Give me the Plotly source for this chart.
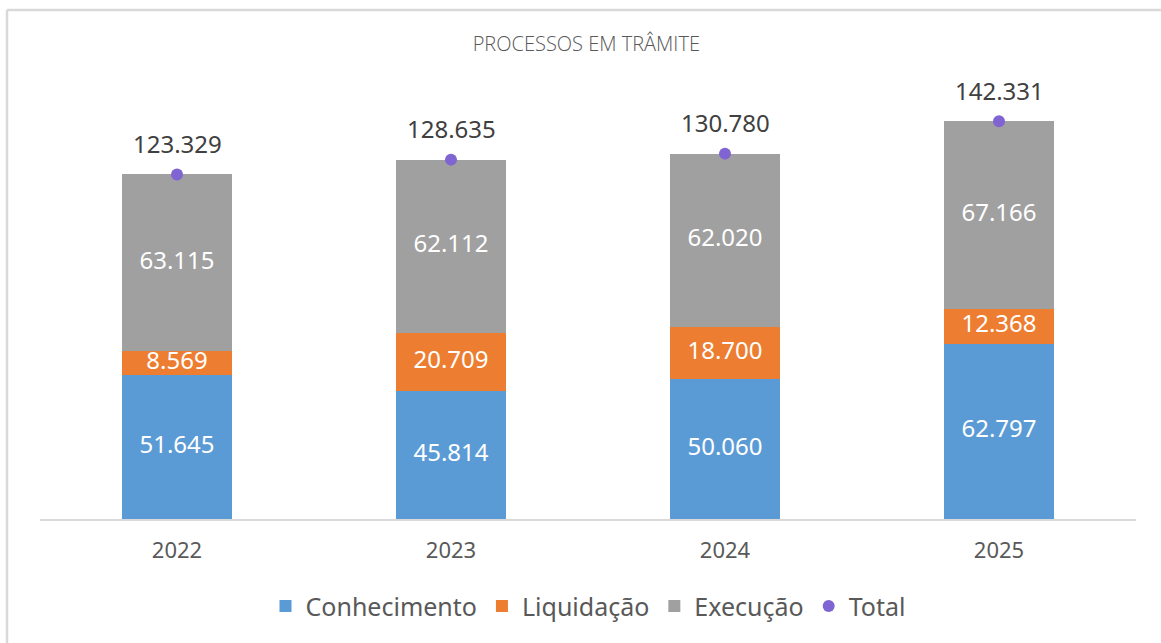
import plotly.graph_objects as go

years = ["2022", "2023", "2024", "2025"]
conhecimento = [51645, 45814, 50060, 62797]
liquidacao = [8569, 20709, 18700, 12368]
execucao = [63115, 62112, 62020, 67166]
total = [123329, 128635, 130780, 142331]

title_text = "PROCESSOS EM TRÂMITE"
FONT = "Noto Sans"

xpos = list(range(len(years)))

def fmt(v):
    return f"{v:,.0f}".replace(",", ".")

fig = go.Figure()

series = [
    ("Conhecimento", conhecimento, "#5b9bd5"),
    ("Liquidação", liquidacao, "#ed7d31"),
    ("Execução", execucao, "#a0a0a0"),
]
for name, vals, color in series:
    fig.add_trace(go.Bar(
        x=xpos, y=vals, name=name,
        marker=dict(color=color, line=dict(width=0)),
        width=0.405,
    ))

# segment labels at segment mid-points
base = [0] * len(years)
for name, vals, color in series:
    mids = [b + v / 2 for b, v in zip(base, vals)]
    fig.add_trace(go.Scatter(
        x=xpos, y=mids, mode="text",
        text=[fmt(v) for v in vals],
        textfont=dict(family=FONT, size=24, color="white"),
        showlegend=False, hoverinfo="skip",
    ))
    base = [b + v for b, v in zip(base, vals)]

fig.add_trace(go.Scatter(
    x=xpos, y=total, name="Total", mode="markers",
    marker=dict(color="#8064d2", size=12),
))

for xp, t in zip(xpos, total):
    fig.add_annotation(
        x=xp, y=t, text=fmt(t), showarrow=False,
        yanchor="middle", yshift=31,
        font=dict(family=FONT, size=24, color="#404040"),
    )

# outer frame (left and top edges)
fig.add_shape(type="line", xref="paper", yref="paper",
              x0=-0.0301, x1=-0.0301, y0=-0.3, y1=1.1387,
              line=dict(color="#d9d9d9", width=2.5))
fig.add_shape(type="line", xref="paper", yref="paper",
              x0=-0.0301, x1=1.05, y0=1.1387, y1=1.1387,
              line=dict(color="#d9d9d9", width=2.5))

fig.update_layout(
    width=1161, height=643,
    margin=dict(l=40, r=25, t=72, b=124),
    barmode="stack",
    paper_bgcolor="white", plot_bgcolor="white",
    font=dict(family=FONT, color="#595959"),
    title=dict(text=title_text, x=0.505, xanchor="center", y=0.931, yanchor="middle",
               font=dict(family="Open Sans", size=20, color="#595959", weight=300)),
    legend=dict(orientation="h", x=0.5, xanchor="center", y=-0.195, yanchor="middle",
                font=dict(family=FONT, size=25, color="#595959"),
                traceorder="normal"),
    xaxis=dict(range=[-0.5, len(years) - 0.5], tickvals=xpos, ticktext=years,
               showline=True, linecolor="#d9d9d9", linewidth=2,
               ticks="outside", ticklen=11, tickcolor="rgba(0,0,0,0)",
               tickfont=dict(family=FONT, size=22, color="#595959"),
               showgrid=False, zeroline=False, automargin=False),
    yaxis=dict(range=[0, 160000], visible=False, showgrid=False, zeroline=False,
               automargin=False),
    showlegend=True,
)

fig.write_html("out.html", config={"displayModeBar": False},
               post_script="document.body.style.margin='0';")
